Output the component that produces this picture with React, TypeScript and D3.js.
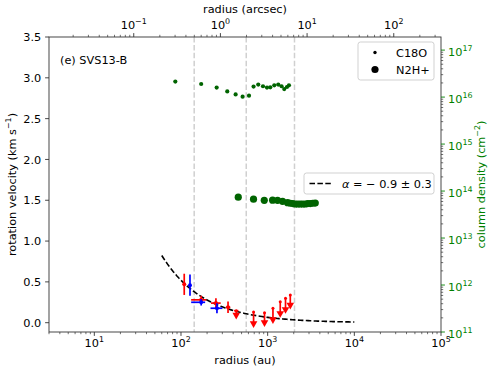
import React from 'react';
import * as d3 from 'd3';

// ---------- data ----------
const c18oRadius = [86, 171, 258, 342, 427, 514, 609, 688, 779, 883, 982, 1072, 1192, 1325, 1447, 1554, 1670, 1761];
const c18oColumn = [2.14e16, 1.9e16, 1.59e16, 1.32e16, 1.14e16, 1.02e16, 1.07e16, 1.67e16, 1.85e16, 1.7e16, 1.59e16, 1.61e16, 1.78e16, 1.85e16, 1.7e16, 1.48e16, 1.64e16, 1.78e16];

const n2hRadius = [458, 687, 914, 1140, 1301, 1486, 1698, 1824, 1950, 2081, 2224, 2377, 2541, 2716, 2902, 3101, 3315, 3543];
const n2hColumn = [7.4e13, 6.7e13, 6.35e13, 6.4e13, 6.35e13, 6.05e13, 5.65e13, 5.5e13, 5.4e13, 5.3e13, 5.3e13, 5.3e13, 5.3e13, 5.3e13, 5.4e13, 5.4e13, 5.5e13, 5.55e13];

const redRadius = [109, 171, 253, 349];
const redVel = [0.47, 0.28, 0.24, 0.19];
const redVelErr = [0.13, 0.05, 0.06, 0.07];
const redRadLo = [null, 131, 222, 330];
const redRadHi = [null, 196, 287, 370];

const ulRadius = [434, 688, 920, 1151, 1397, 1607, 1824];
const ulVel = [0.147, 0.131, 0.123, 0.177, 0.258, 0.3, 0.34];
const ulLen = [0.093, 0.18, 0.16, 0.177, 0.184, 0.177, 0.163];
const ulRadLo = [410, null, null, null, null, null, null];
const ulRadHi = [460, null, null, null, null, null, null];

const blueRadius = [127, 171, 260];
const blueVel = [0.46, 0.25, 0.177];
const blueVelErr = [0.13, 0.04, 0.06];
const blueRadLo = [null, 131, 219];
const blueRadHi = [null, 190, 301];

const fitAlpha = -0.9;
const fitR0 = 100;
const fitV0 = 0.52;
const fitRange = [60, 1e4];

const beamRadii = [142, 566, 2040];
const distancePc = 285;

const yTicks = [0, 0.5, 1, 1.5, 2, 2.5, 3, 3.5];
const xDecades = [1, 2, 3, 4, 5];
const xTopDecades = [-1, 0, 1, 2];
const yRDecades = [11, 12, 13, 14, 15, 16, 17];

// ---------- layout ----------
const W = 490, H = 368;
const L = 49, R = 441, T = 37, B = 332;
const FONT = 'DejaVu Sans, sans-serif';
const FS = 11.3;
const GREEN_TXT = '#008000';
const GREEN_PT = '#006400';

function minorTicks(dom: number[]) {
  const out: number[] = [];
  const lo = Math.floor(Math.log10(dom[0]));
  const hi = Math.ceil(Math.log10(dom[1]));
  for (let k = lo; k <= hi; k++) {
    for (let m = 2; m <= 9; m++) {
      const v = m * Math.pow(10, k);
      if (v >= dom[0] * 0.9999 && v <= dom[1] * 1.0001) out.push(v);
    }
  }
  return out;
}

function Pow({ e }: { e: number }) {
  const s = e < 0 ? '\u2212' + Math.abs(e) : String(e);
  return (
    <>
      10<tspan dy={-4.8} fontSize={FS * 0.7}>{s}</tspan>
    </>
  );
}

export default function App() {
  const x = d3.scaleLog().domain([3, 1e5]).range([L, R]);
  const xTop = d3.scaleLog().domain([3 / distancePc, 1e5 / distancePc]).range([L, R]);
  const y = d3.scaleLinear().domain([-0.114, 3.5]).range([B, T]);
  const yR = d3.scaleLog().domain([1e11, 1.9e17]).range([B, T]);

  const fitPts = d3.range(0, 101).map((i) => {
    const r = fitRange[0] * Math.pow(fitRange[1] / fitRange[0], i / 100);
    return [r, fitV0 * Math.pow(r / fitR0, fitAlpha)] as [number, number];
  });
  const fitLine = d3.line<[number, number]>().x((d) => x(d[0])).y((d) => y(d[1]))(fitPts) || '';

  const errLw = 1.7;

  const errBars = (
    rad: number[], vel: number[], err: number[], lo: (number | null)[], hi: (number | null)[], color: string, key: string
  ) =>
    rad.map((r, i) => (
      <g key={key + i} stroke={color} strokeWidth={errLw}>
        <line x1={x(r)} x2={x(r)} y1={y(vel[i] - err[i])} y2={y(vel[i] + err[i])} />
        {lo[i] != null && <line x1={x(lo[i] as number)} x2={x(hi[i] as number)} y1={y(vel[i])} y2={y(vel[i])} />}
        <circle cx={x(r)} cy={y(vel[i])} r={2} fill={color} stroke="none" />
      </g>
    ));

  const ulMarks = ulRadius.map((r, i) => {
    const cx = x(r);
    const y0 = y(ulVel[i]);
    const y1 = y(ulVel[i] - ulLen[i]);
    return (
      <g key={'ul' + i} stroke="red" strokeWidth={errLw}>
        <line x1={cx} x2={cx} y1={y0} y2={y1 - 3} />
        {ulRadLo[i] != null && <line x1={x(ulRadLo[i] as number)} x2={x(ulRadHi[i] as number)} y1={y0} y2={y0} />}
        <circle cx={cx} cy={y0} r={1.5} fill="red" stroke="none" />
        <path d={`M${cx - 3.8},${y1 - 5.5} L${cx + 3.8},${y1 - 5.5} L${cx},${y1 + 1.2} Z`} fill="red" stroke="none" />
      </g>
    );
  });

  const spine = '#333';

  return (
    <svg width={W} height={H} style={{ position: 'absolute', left: 0, top: 0, background: '#fff' }} fontFamily={FONT} fontSize={FS}>
      <rect x={0} y={0} width={W} height={H} fill="#fff" />

      {/* beam dashed lines */}
      {beamRadii.map((r, i) => (
        <line key={'bm' + i} x1={x(r)} x2={x(r)} y1={T} y2={B} stroke="#d0d0d0" strokeWidth={1.5} strokeDasharray="5.5,2.4" />
      ))}

      {/* fit line */}
      <path d={fitLine} fill="none" stroke="#000" strokeWidth={1.6} strokeDasharray="5.5,2.4" />

      {/* column densities */}
      {c18oRadius.map((r, i) => (
        <circle key={'c' + i} cx={x(r)} cy={yR(c18oColumn[i])} r={2.1} fill={GREEN_PT} />
      ))}
      {n2hRadius.map((r, i) => (
        <circle key={'n' + i} cx={x(r)} cy={yR(n2hColumn[i])} r={3.6} fill={GREEN_PT} />
      ))}

      {/* velocities */}
      {errBars(redRadius, redVel, redVelErr, redRadLo, redRadHi, 'red', 'rd')}
      {ulMarks}
      {errBars(blueRadius, blueVel, blueVelErr, blueRadLo, blueRadHi, 'blue', 'bl')}

      {/* spines */}
      <rect x={L} y={T} width={R - L} height={B - T} fill="none" stroke={spine} strokeWidth={0.9} />

      {/* left axis */}
      {yTicks.map((t) => (
        <g key={'yt' + t}>
          <line x1={L - 3.9} x2={L} y1={y(t)} y2={y(t)} stroke={spine} strokeWidth={0.9} />
          <text x={L - 7.8} y={y(t)} dy="0.36em" textAnchor="end" fill="#000">{t.toFixed(1)}</text>
        </g>
      ))}
      <text transform={`translate(16,${(T + B) / 2}) rotate(-90)`} textAnchor="middle" fill="#000">
        rotation velocity (km s<tspan dy={-4.8} fontSize={FS * 0.7}>{'\u22121'}</tspan><tspan dy={4.8}>)</tspan>
      </text>

      {/* bottom axis */}
      {minorTicks([3, 1e5]).map((t, i) => (
        <line key={'bm' + i} x1={x(t)} x2={x(t)} y1={B} y2={B + 2.2} stroke={spine} strokeWidth={0.7} />
      ))}
      {xDecades.map((e) => (
        <g key={'bx' + e}>
          <line x1={x(Math.pow(10, e))} x2={x(Math.pow(10, e))} y1={B} y2={B + 3.9} stroke={spine} strokeWidth={0.9} />
          <text x={x(Math.pow(10, e))} y={B + 15} textAnchor="middle" fill="#000"><Pow e={e} /></text>
        </g>
      ))}
      <text x={(L + R) / 2} y={364} textAnchor="middle" fill="#000">radius (au)</text>

      {/* top axis */}
      {minorTicks(xTop.domain()).map((t, i) => (
        <line key={'tm' + i} x1={xTop(t)} x2={xTop(t)} y1={T} y2={T - 2.2} stroke={spine} strokeWidth={0.7} />
      ))}
      {xTopDecades.map((e) => (
        <g key={'tx' + e}>
          <line x1={xTop(Math.pow(10, e))} x2={xTop(Math.pow(10, e))} y1={T} y2={T - 3.9} stroke={spine} strokeWidth={0.9} />
          <text x={xTop(Math.pow(10, e))} y={T - 8.5} textAnchor="middle" fill="#000"><Pow e={e} /></text>
        </g>
      ))}
      <text x={(L + R) / 2} y={12.5} textAnchor="middle" fill="#000">radius (arcsec)</text>

      {/* right axis */}
      {minorTicks(yR.domain()).map((t, i) => (
        <line key={'rm' + i} x1={R} x2={R + 2.2} y1={yR(t)} y2={yR(t)} stroke={spine} strokeWidth={0.7} />
      ))}
      {yRDecades.map((e) => (
        <g key={'ry' + e}>
          <line x1={R} x2={R + 3.9} y1={yR(Math.pow(10, e))} y2={yR(Math.pow(10, e))} stroke={GREEN_TXT} strokeWidth={0.9} />
          <text x={R + 7} y={yR(Math.pow(10, e))} dy="0.5em" textAnchor="start" fill={GREEN_TXT}><Pow e={e} /></text>
        </g>
      ))}
      <text transform={`translate(485,${(T + B) / 2}) rotate(-90)`} textAnchor="middle" fill={GREEN_TXT}>
        column density (cm<tspan dy={-4.8} fontSize={FS * 0.7}>{'\u22122'}</tspan><tspan dy={4.8}>)</tspan>
      </text>

      {/* panel label */}
      <text x={60} y={64} fill="#000">(e) SVS13-B</text>

      {/* legend 1 */}
      <rect x={358} y={42} width={76} height={38} rx={2.5} fill="#fff" fillOpacity={0.8} stroke="#ccc" strokeWidth={0.9} />
      <circle cx={375} cy={52.5} r={1.7} fill="#000" />
      <text x={396} y={52.5} dy="0.36em" fill="#000">C18O</text>
      <circle cx={375} cy={69.5} r={3.6} fill="#000" />
      <text x={396} y={69.5} dy="0.36em" fill="#000">N2H+</text>

      {/* legend 2 */}
      <rect x={304} y={173} width={130} height={21} rx={2.5} fill="#fff" fillOpacity={0.8} stroke="#ccc" strokeWidth={0.9} />
      <line x1={309.5} x2={331.5} y1={183.5} y2={183.5} stroke="#000" strokeWidth={1.6} strokeDasharray="5.5,2.4" />
      <text x={342} y={183.5} dy="0.36em" fill="#000">
        <tspan fontStyle="italic">{'\u03b1'}</tspan>
        {' = \u2212 0.9 \u00b1 0.3'}
      </text>
    </svg>
  );
}
